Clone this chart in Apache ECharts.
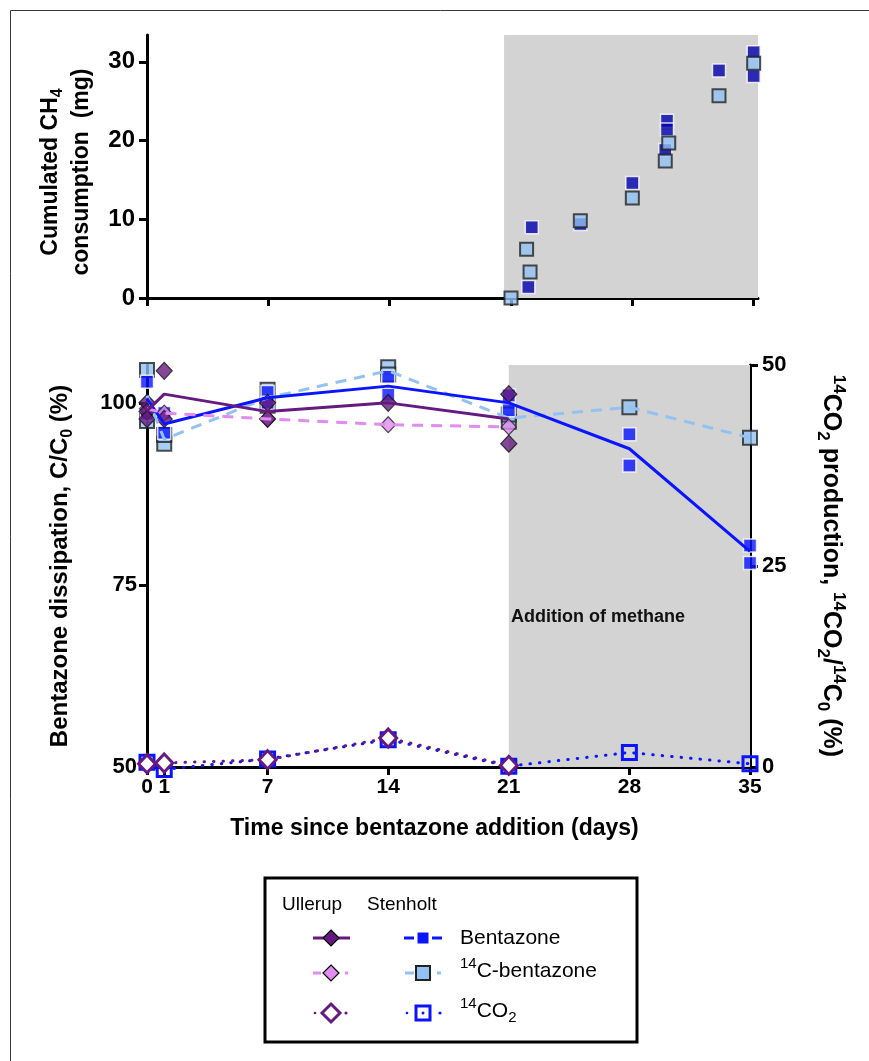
<!DOCTYPE html>
<html>
<head>
<meta charset="utf-8">
<script src="https://cdn.jsdelivr.net/npm/echarts@6/dist/echarts.min.js"></script>
<style>
  html, body { margin: 0; padding: 0; background: #fff; }
  #chart { width: 869px; height: 1061px; }
</style>
</head>
<body>
<div id="chart"></div>
<script>
// --- data ---
var dayTicks = [0, 1, 7, 14, 21, 28, 35]
var topDayTicks = [0, 7, 14, 21, 28, 35]

// top panel: cumulated CH4 consumption (mg), [day, value]
var ch4Bentazone = [[22.0, 1.4], [22.2, 9.0], [25.0, 9.4], [28.0, 14.6], [30.0, 22.5], [30.0, 21.4], [29.9, 18.8], [33.0, 28.9], [35.0, 31.2], [35.0, 28.2]]
var ch4C14 = [[21.0, 0.0], [22.1, 3.3], [21.9, 6.2], [25.0, 9.8], [28.0, 12.7], [30.1, 19.7], [29.9, 17.4], [33.0, 25.7], [35.0, 29.8]]

// bottom panel
var ullDays = [0, 1, 7, 14, 21]
var steDays = [0, 1, 7, 14, 21, 28, 35]
var ullBentMean = [98.9, 101.2, 98.8, 100.0, 97.8]
var ullC14Mean = [99.2, 98.6, 97.8, 97.0, 96.7]
var steBentMean = [100.6, 97.1, 100.7, 102.3, 100.0, 93.7, 79.6]
var steC14Mean = [101.0, 95.0, 100.7, 104.4, 97.9, 99.4, 95.2]
var ullBentReps = [[0, 100.0], [0, 98.8], [0, 97.8], [1, 104.4], [1, 97.8], [7, 100.0], [7, 97.8], [14, 100.0], [21, 101.2], [21, 94.4]]
var steBentReps = [[0, 102.9], [0, 98.5], [1, 98.6], [1, 95.9], [7, 101.5], [7, 100.0], [14, 103.6], [14, 101.1], [21, 101.0], [21, 99.0], [28, 95.7], [28, 91.4], [35, 80.4], [35, 78.0]]
var steC14Reps = [[0, 104.5], [0, 97.5], [1, 94.4], [1, 95.6], [7, 101.8], [7, 99.6], [14, 104.9], [14, 103.9], [21, 97.4], [21, 98.4], [28, 99.4], [35, 95.2]]
var ullCO2 = [0.4, 0.5, 0.9, 3.6, 0.2]
var steCO2 = [0.6, -0.3, 1.0, 3.4, 0.1, 1.8, 0.4]

function pairs(xs, ys) {
  return xs.map(function (x, i) { return [x, ys[i]] })
}

var FONT = "'Liberation Sans', Arial, sans-serif"
var PURPLE = '#661a80'
var PINK = '#e08cf0'
var BLUE = '#0a14ff'
var LIGHTBLUE = '#92c2f4'
var NAVY = '#0000aa'
var SHADE = '#d3d3d3'

function richSet(size, bold, supScale) {
  var w = bold ? 'bold' : 'normal'
  var small = Math.round(size * (supScale || 0.65))
  return {
    a: { fontSize: size, fontWeight: w, fontFamily: FONT, lineHeight: size + 8, color: '#000' },
    s: { fontSize: small, fontWeight: w, fontFamily: FONT, lineHeight: size - 2, verticalAlign: 'bottom', color: '#000' },
    p: { fontSize: small, fontWeight: w, fontFamily: FONT, lineHeight: size - 2, verticalAlign: 'top', color: '#000' }
  }
}

var axisLine = { show: true, lineStyle: { color: '#000', width: 3 } }
var axisTick = { show: true, length: 8, lineStyle: { color: '#000', width: 3 } }
var labelStyle = { color: '#000', fontFamily: FONT, fontWeight: 'bold', fontSize: 22, showMaxLabel: false }

var chart = echarts.init(document.getElementById('chart'))

// legend (custom, two symbol columns)
var legend = [
  { type: 'rect', shape: { x: 265, y: 878, width: 372, height: 164 }, style: { fill: '#fff', stroke: '#000', lineWidth: 3 } },
  { type: 'text', x: 282, y: 905, style: { text: 'Ullerup', font: '19px ' + FONT, fill: '#000', verticalAlign: 'middle' } },
  { type: 'text', x: 367, y: 905, style: { text: 'Stenholt', font: '19px ' + FONT, fill: '#000', verticalAlign: 'middle' } },
  // row 1
  { type: 'line', shape: { x1: 313, y1: 938, x2: 350, y2: 938 }, style: { stroke: PURPLE, lineWidth: 3 } },
  { type: 'polygon', shape: { points: [[331, 930], [339, 938], [331, 946], [323, 938]] }, style: { fill: PURPLE, stroke: '#000', lineWidth: 1.2 } },
  { type: 'line', shape: { x1: 404, y1: 938, x2: 442, y2: 938 }, style: { stroke: BLUE, lineWidth: 3, lineDash: [10, 18] } },
  { type: 'rect', shape: { x: 417, y: 932, width: 12, height: 12 }, style: { fill: BLUE, stroke: '#fff', lineWidth: 1 } },
  // row 2
  { type: 'line', shape: { x1: 313, y1: 973, x2: 321, y2: 973 }, style: { stroke: PINK, lineWidth: 3 } },
  { type: 'line', shape: { x1: 345, y1: 973, x2: 348, y2: 973 }, style: { stroke: PINK, lineWidth: 3 } },
  { type: 'polygon', shape: { points: [[331, 965], [339, 973], [331, 981], [323, 973]] }, style: { fill: PINK, stroke: '#000', lineWidth: 1.2 } },
  { type: 'line', shape: { x1: 405, y1: 973, x2: 414, y2: 973 }, style: { stroke: LIGHTBLUE, lineWidth: 3 } },
  { type: 'line', shape: { x1: 437, y1: 973, x2: 441, y2: 973 }, style: { stroke: LIGHTBLUE, lineWidth: 3 } },
  { type: 'rect', shape: { x: 416, y: 966, width: 14, height: 14 }, style: { fill: LIGHTBLUE, stroke: '#222', lineWidth: 2 } },
  // row 3
  { type: 'circle', shape: { cx: 315, cy: 1013, r: 1.3 }, style: { fill: PURPLE } },
  { type: 'circle', shape: { cx: 346, cy: 1013, r: 1.6 }, style: { fill: PURPLE } },
  { type: 'polygon', shape: { points: [[331, 1004], [340, 1013], [331, 1022], [322, 1013]] }, style: { fill: '#fff', stroke: PURPLE, lineWidth: 3 } },
  { type: 'circle', shape: { cx: 407, cy: 1013, r: 1.3 }, style: { fill: BLUE } },
  { type: 'circle', shape: { cx: 440, cy: 1013, r: 1.6 }, style: { fill: BLUE } },
  { type: 'rect', shape: { x: 416, y: 1006, width: 14, height: 14 }, style: { fill: '#fff', stroke: BLUE, lineWidth: 3 } },
  { type: 'circle', shape: { cx: 423, cy: 1013, r: 1.5 }, style: { fill: BLUE } },
  // row texts
  { type: 'text', x: 460, y: 938, style: { text: '{a|Bentazone}', rich: richSet(21, false, 0.7), verticalAlign: 'middle' } },
  { type: 'text', x: 460, y: 971, style: { text: '{p|14}{a|C-bentazone}', rich: richSet(21, false, 0.7), verticalAlign: 'middle' } },
  { type: 'text', x: 460, y: 1011, style: { text: '{p|14}{a|CO}{s|2}', rich: richSet(21, false, 0.7), verticalAlign: 'middle' } }
]

var option = {
  animation: false,
  backgroundColor: '#fff',
  grid: [
    { left: 147, top: 35, width: 611, height: 263 },
    { left: 147, top: 365, width: 603, height: 402 }
  ],
  xAxis: [
    {
      type: 'value', gridIndex: 0, min: 0, max: 35.25,
      axisLine: axisLine,
      axisTick: { show: true, length: 8, lineStyle: { color: '#000', width: 3 }, customValues: topDayTicks },
      axisLabel: { show: false }, splitLine: { show: false }
    },
    {
      type: 'value', gridIndex: 1, min: 0, max: 35,
      axisLine: axisLine,
      axisTick: { show: true, length: 8, lineStyle: { color: '#000', width: 3 }, customValues: dayTicks },
      axisLabel: Object.assign({}, labelStyle, { margin: 10, fontSize: 21, showMaxLabel: true, customValues: dayTicks }),
      splitLine: { show: false },
      name: 'Time since bentazone addition (days)', nameLocation: 'middle', nameGap: 50,
      nameTextStyle: { color: '#000', fontFamily: FONT, fontWeight: 'bold', fontSize: 23, padding: [0, 28, 0, 0] }
    }
  ],
  yAxis: [
    {
      type: 'value', gridIndex: 0, min: 0, max: 33.4, interval: 10,
      axisLine: axisLine, axisTick: axisTick,
      axisLabel: Object.assign({}, labelStyle, { margin: 12, fontSize: 24 }),
      splitLine: { show: false }
    },
    {
      type: 'value', gridIndex: 1, min: 50, max: 105.2, interval: 25,
      axisLine: axisLine, axisTick: axisTick,
      axisLabel: Object.assign({}, labelStyle, { margin: 10 }),
      splitLine: { show: false },
      name: '{a|Bentazone dissipation, C/C}{s|0}{a| (%)}', nameLocation: 'middle', nameGap: 71,
      nameTextStyle: { rich: richSet(24, true) }
    },
    {
      type: 'value', gridIndex: 1, position: 'right', min: 0, max: 50, interval: 25,
      axisLine: axisLine, axisTick: axisTick,
      axisLabel: Object.assign({}, labelStyle, { margin: 12, showMaxLabel: true }),
      splitLine: { show: false },
      name: '{p|14}{a|CO}{s|2}{a| production, }{p|14}{a|CO}{s|2}{a|/}{p|14}{a|C}{s|0}{a| (%)}',
      nameLocation: 'middle', nameGap: 64, nameRotate: -90,
      nameTextStyle: { rich: richSet(25, true, 0.68) }
    }
  ],
  graphic: [
    { type: 'rect', shape: { x: 10.5, y: 10.5, width: 880, height: 1070 }, style: { fill: 'none', stroke: '#3a3a3a', lineWidth: 1 }, z: 100 },
    {
      type: 'text', x: 66, y: 172, rotation: Math.PI / 2, z: 50,
      style: { text: '{a|Cumulated CH}{s|4}\n{a|consumption  (mg)}', rich: richSet(23, true, 0.7), align: 'center', verticalAlign: 'middle' }
    },
    { type: 'text', x: 511, y: 617, z: 50, style: { text: 'Addition of methane', font: 'bold 18px ' + FONT, fill: '#111', verticalAlign: 'middle' } }
  ].concat(legend),
  series: [
    // top panel
    {
      type: 'scatter', xAxisIndex: 0, yAxisIndex: 0, clip: false, data: ch4Bentazone,
      symbol: 'rect', symbolSize: 13, itemStyle: { color: NAVY, borderColor: '#fff', borderWidth: 1.5 },
      markArea: { silent: true, itemStyle: { color: SHADE }, data: [[{ xAxis: 20.6, yAxis: 0 }, { xAxis: 35.25, yAxis: 33.4 }]] }
    },
    {
      type: 'scatter', xAxisIndex: 0, yAxisIndex: 0, clip: false, data: ch4C14,
      symbol: 'rect', symbolSize: 13, itemStyle: { color: LIGHTBLUE, borderColor: '#222', borderWidth: 2 }
    },
    // bottom panel: mean lines
    {
      name: 'shade', type: 'line', xAxisIndex: 1, yAxisIndex: 1, data: [], silent: true,
      markArea: { silent: true, itemStyle: { color: SHADE }, data: [[{ xAxis: 21 }, { xAxis: 35 }]] }
    },
    {
      type: 'line', xAxisIndex: 1, yAxisIndex: 1, data: pairs(steDays, steC14Mean), showSymbol: false,
      lineStyle: { color: LIGHTBLUE, width: 3, type: [11, 8] }
    },
    {
      type: 'line', xAxisIndex: 1, yAxisIndex: 1, data: pairs(steDays, steBentMean), showSymbol: false,
      lineStyle: { color: BLUE, width: 3 }
    },
    {
      type: 'line', xAxisIndex: 1, yAxisIndex: 1, data: pairs(ullDays, ullC14Mean), showSymbol: false,
      lineStyle: { color: PINK, width: 3, type: [11, 8] }
    },
    {
      type: 'line', xAxisIndex: 1, yAxisIndex: 1, data: pairs(ullDays, ullBentMean), showSymbol: false,
      lineStyle: { color: PURPLE, width: 3 }
    },
    // replicate markers
    {
      type: 'scatter', xAxisIndex: 1, yAxisIndex: 1, data: steC14Reps, clip: false,
      symbol: 'rect', symbolSize: 14, itemStyle: { color: LIGHTBLUE, borderColor: '#222', borderWidth: 2 }
    },
    {
      type: 'scatter', xAxisIndex: 1, yAxisIndex: 1, data: steBentReps, clip: false,
      symbol: 'rect', symbolSize: 13, itemStyle: { color: BLUE, borderColor: '#fff', borderWidth: 1.5 }
    },
    {
      type: 'scatter', xAxisIndex: 1, yAxisIndex: 1, data: pairs(ullDays, ullC14Mean), clip: false,
      symbol: 'diamond', symbolSize: [15, 16], itemStyle: { color: PINK, borderColor: '#222', borderWidth: 1.2 }
    },
    {
      type: 'scatter', xAxisIndex: 1, yAxisIndex: 1, data: ullBentReps, clip: false,
      symbol: 'diamond', symbolSize: [16, 17], itemStyle: { color: PURPLE, borderColor: '#111', borderWidth: 1.2 }
    },
    // 14CO2 on right axis
    {
      type: 'line', xAxisIndex: 1, yAxisIndex: 2, data: pairs(steDays, steCO2), clip: false,
      symbol: 'rect', symbolSize: 14, showAllSymbol: true,
      lineStyle: { color: BLUE, width: 3, type: [0.5, 9], cap: 'round' },
      itemStyle: { color: 'rgba(255,255,255,0)', borderColor: BLUE, borderWidth: 3 }
    },
    {
      type: 'line', xAxisIndex: 1, yAxisIndex: 2, data: pairs(ullDays, ullCO2), clip: false,
      symbol: 'diamond', symbolSize: [17, 18], showAllSymbol: true,
      lineStyle: { color: PURPLE, width: 3, type: [0.5, 9], cap: 'round' },
      itemStyle: { color: '#fff', borderColor: PURPLE, borderWidth: 3 }
    }
  ]
}

chart.setOption(option)
</script>
</body>
</html>
